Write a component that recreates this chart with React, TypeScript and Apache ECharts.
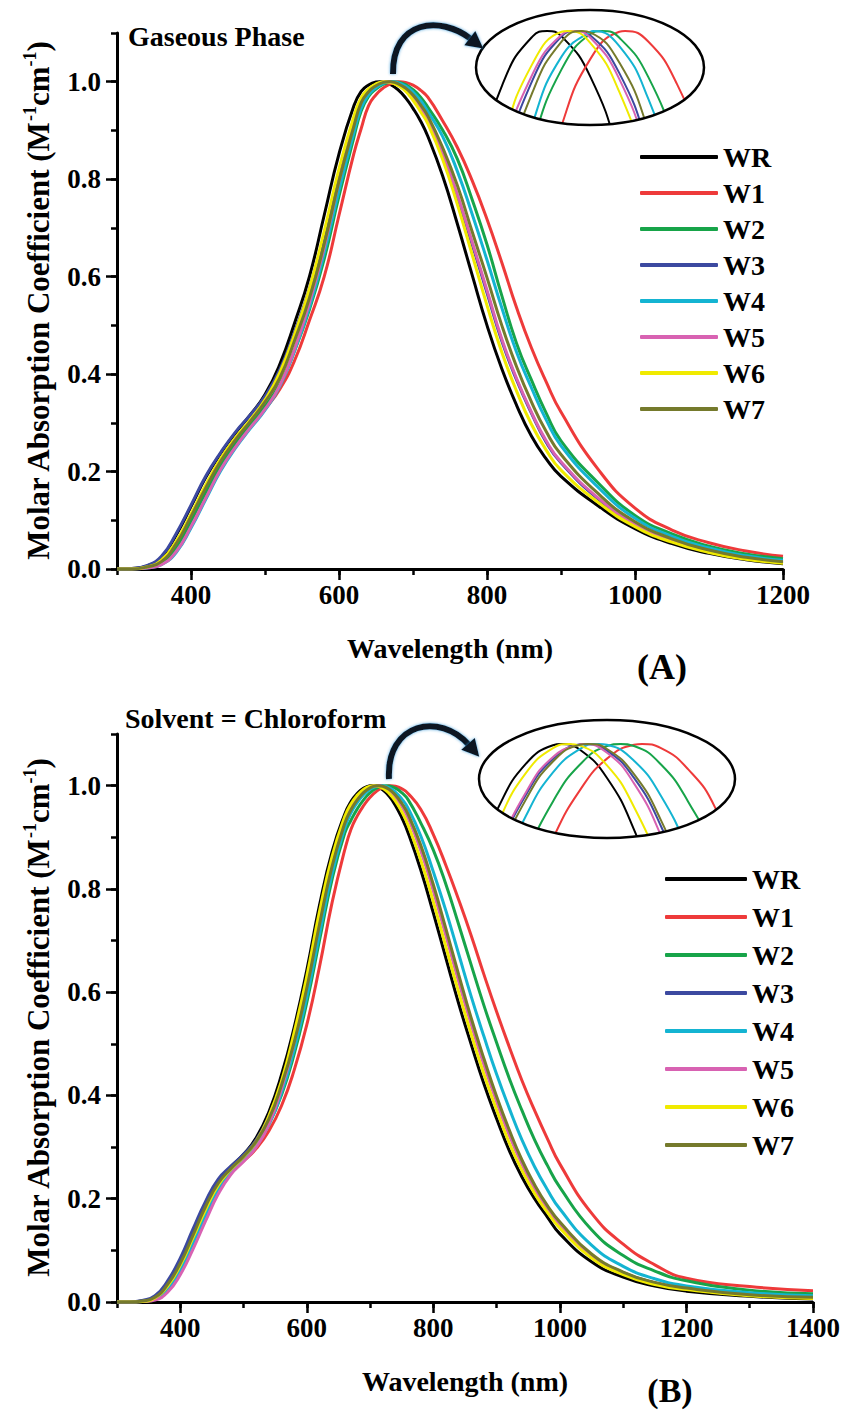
import React, { useEffect, useRef } from 'react';
import * as echarts from 'echarts';

// ---------- data ----------
const NAMES = ['WR', 'W1', 'W2', 'W3', 'W4', 'W5', 'W6', 'W7'];
const COLORS = ['#000000', '#ee3a3a', '#17a449', '#3c49a0', '#14b4d2', '#d862b2', '#f0ea00', '#757a2c'];

// Panel A (gaseous phase)
const wavelengthA = [300, 320, 340, 360, 380, 400, 420, 440, 460, 480, 500, 520, 540, 560, 580, 600,
  620, 630, 640, 650, 660, 670, 680, 690, 700, 710, 720,
  740, 760, 780, 800, 820, 840, 860, 880, 900,
  950, 1000, 1050, 1100, 1150, 1200];
const WR_A = [0.000, 0.001, 0.006, 0.024, 0.070, 0.128, 0.188, 0.237, 0.279, 0.316, 0.358, 0.420, 0.505, 0.600, 0.726, 0.852,
  0.950, 0.980, 0.9933, 0.9993, 0.9993, 0.9939, 0.9831, 0.9669, 0.9453, 0.920, 0.888,
  0.807, 0.708, 0.603, 0.500, 0.411, 0.336, 0.273, 0.226, 0.190,
  0.130, 0.083, 0.052, 0.032, 0.019, 0.011];
const W1_A = [0.000, 0.000, 0.003, 0.012, 0.045, 0.099, 0.158, 0.214, 0.257, 0.293, 0.328, 0.369, 0.428, 0.510, 0.600, 0.726,
  0.852, 0.904, 0.951, 0.9734, 0.9874, 0.9963, 0.9999, 0.9986, 0.9929, 0.9828, 0.9682,
  0.920, 0.865, 0.797, 0.718, 0.629, 0.536, 0.454, 0.384, 0.322,
  0.205, 0.125, 0.080, 0.054, 0.037, 0.026];
const W2_A = [0.000, 0.000, 0.003, 0.012, 0.045, 0.099, 0.158, 0.214, 0.259, 0.297, 0.334, 0.380, 0.448, 0.532, 0.636, 0.765,
  0.885, 0.940, 0.9699, 0.9850, 0.9949, 0.9996, 0.9991, 0.9939, 0.9838, 0.9689, 0.9480,
  0.901, 0.841, 0.758, 0.666, 0.561, 0.463, 0.388, 0.320, 0.263,
  0.177, 0.110, 0.072, 0.047, 0.031, 0.021];
const W3_A = [0.000, 0.001, 0.007, 0.026, 0.073, 0.131, 0.191, 0.239, 0.281, 0.316, 0.355, 0.409, 0.487, 0.575, 0.686, 0.815,
  0.922, 0.963, 0.9819, 0.9935, 0.9993, 0.9994, 0.9944, 0.9844, 0.9694, 0.948, 0.920,
  0.850, 0.763, 0.666, 0.567, 0.468, 0.388, 0.320, 0.260, 0.218,
  0.144, 0.091, 0.057, 0.035, 0.021, 0.013];
const W4_A = [0.000, 0.000, 0.002, 0.009, 0.034, 0.084, 0.143, 0.201, 0.248, 0.288, 0.326, 0.375, 0.448, 0.537, 0.648, 0.777,
  0.895, 0.946, 0.9731, 0.9877, 0.9966, 0.9999, 0.9980, 0.9910, 0.9790, 0.9620, 0.939,
  0.888, 0.816, 0.728, 0.634, 0.536, 0.445, 0.372, 0.306, 0.253,
  0.168, 0.104, 0.067, 0.043, 0.027, 0.018];
const W5_A = [0.000, 0.000, 0.002, 0.009, 0.036, 0.087, 0.146, 0.204, 0.250, 0.290, 0.328, 0.377, 0.452, 0.546, 0.660, 0.796,
  0.913, 0.960, 0.9833, 0.9943, 0.9995, 0.9991, 0.9936, 0.9831, 0.9676, 0.948, 0.923,
  0.854, 0.768, 0.671, 0.572, 0.472, 0.391, 0.322, 0.263, 0.220,
  0.146, 0.092, 0.058, 0.036, 0.022, 0.014];
const W6_A = [0.000, 0.000, 0.004, 0.018, 0.057, 0.113, 0.173, 0.226, 0.269, 0.306, 0.347, 0.403, 0.482, 0.575, 0.693, 0.821,
  0.928, 0.967, 0.9855, 0.9957, 0.9999, 0.9984, 0.9919, 0.9804, 0.962, 0.939, 0.914,
  0.841, 0.748, 0.645, 0.541, 0.445, 0.365, 0.297, 0.244, 0.203,
  0.137, 0.087, 0.055, 0.034, 0.020, 0.012];
const W7_A = [0.000, 0.000, 0.004, 0.015, 0.052, 0.108, 0.167, 0.221, 0.265, 0.303, 0.343, 0.392, 0.469, 0.556, 0.667, 0.796,
  0.908, 0.957, 0.9796, 0.9919, 0.9986, 0.9998, 0.9958, 0.9868, 0.9728, 0.953, 0.930,
  0.865, 0.787, 0.692, 0.598, 0.500, 0.415, 0.343, 0.282, 0.235,
  0.155, 0.097, 0.062, 0.039, 0.024, 0.015];
const peaksA = [655, 682, 674, 665, 671, 664, 662, 667];

// Panel B (chloroform)
const wavelengthB = [300, 320, 340, 360, 380, 400, 420, 440, 460, 480, 500, 520, 540, 560, 580, 600, 620, 640,
  660, 670, 680, 690, 700, 710, 720, 730, 740, 750, 760,
  780, 800, 820, 840, 860, 880, 900, 920, 940, 960, 980, 1000,
  1050, 1100, 1150, 1200, 1300, 1400];
const WR_B = [0, 0, 0.002, 0.010, 0.037, 0.080, 0.135, 0.190, 0.234, 0.262, 0.286, 0.318, 0.368, 0.440, 0.532, 0.643, 0.768, 0.872,
  0.945, 0.9695, 0.9852, 0.9953, 0.9997, 0.9986, 0.9919, 0.9796, 0.9617, 0.938, 0.909,
  0.837, 0.753, 0.665, 0.578, 0.498, 0.422, 0.355, 0.293, 0.242, 0.200, 0.165, 0.132,
  0.078, 0.048, 0.031, 0.021, 0.011, 0.006];
const W1_B = [0, 0, 0.001, 0.007, 0.027, 0.066, 0.118, 0.174, 0.220, 0.252, 0.273, 0.297, 0.331, 0.380, 0.449, 0.537, 0.649, 0.774,
  0.876, 0.916, 0.9419, 0.9617, 0.9775, 0.9890, 0.9965, 0.9998, 0.9990, 0.9940, 0.9849,
  0.9543, 0.905, 0.845, 0.779, 0.709, 0.634, 0.562, 0.494, 0.429, 0.371, 0.317, 0.267,
  0.172, 0.112, 0.072, 0.046, 0.030, 0.022];
const W2_B = [0, 0, 0.001, 0.007, 0.029, 0.068, 0.121, 0.176, 0.224, 0.256, 0.278, 0.305, 0.345, 0.401, 0.480, 0.580, 0.700, 0.819,
  0.908, 0.9335, 0.9555, 0.9730, 0.9863, 0.9951, 0.9995, 0.9995, 0.9951, 0.9863, 0.9730,
  0.928, 0.875, 0.808, 0.731, 0.652, 0.574, 0.502, 0.433, 0.371, 0.314, 0.265, 0.222,
  0.140, 0.090, 0.060, 0.041, 0.023, 0.016];
const W3_B = [0, 0, 0.003, 0.012, 0.041, 0.085, 0.141, 0.195, 0.238, 0.263, 0.286, 0.314, 0.360, 0.424, 0.508, 0.614, 0.737, 0.849,
  0.931, 0.9559, 0.9744, 0.9879, 0.9964, 0.9999, 0.9984, 0.9919, 0.9804, 0.9639, 0.941,
  0.878, 0.800, 0.713, 0.625, 0.541, 0.463, 0.391, 0.326, 0.270, 0.222, 0.184, 0.151,
  0.090, 0.057, 0.037, 0.026, 0.013, 0.008];
const W4_B = [0, 0, 0.001, 0.006, 0.024, 0.062, 0.113, 0.168, 0.218, 0.252, 0.276, 0.304, 0.343, 0.405, 0.489, 0.591, 0.712, 0.830,
  0.918, 0.948, 0.9678, 0.9829, 0.9932, 0.9988, 0.9998, 0.9960, 0.9876, 0.9744, 0.9565,
  0.903, 0.833, 0.757, 0.674, 0.591, 0.514, 0.441, 0.375, 0.314, 0.262, 0.218, 0.180,
  0.110, 0.069, 0.045, 0.031, 0.018, 0.012];
const W5_B = [0, 0, 0.001, 0.004, 0.019, 0.053, 0.102, 0.157, 0.209, 0.247, 0.272, 0.300, 0.345, 0.413, 0.503, 0.614, 0.737, 0.849,
  0.930, 0.957, 0.9750, 0.9885, 0.9969, 0.9999, 0.9979, 0.9906, 0.9781, 0.9605, 0.9376,
  0.875, 0.796, 0.709, 0.621, 0.537, 0.459, 0.388, 0.323, 0.267, 0.220, 0.182, 0.150,
  0.090, 0.056, 0.037, 0.026, 0.013, 0.008];
const W6_B = [0, 0, 0.001, 0.008, 0.031, 0.071, 0.124, 0.179, 0.226, 0.257, 0.281, 0.311, 0.360, 0.428, 0.522, 0.631, 0.756, 0.863,
  0.940, 0.9650, 0.9817, 0.9931, 0.9990, 0.9996, 0.9949, 0.9850, 0.9699, 0.9497, 0.9235,
  0.856, 0.775, 0.687, 0.600, 0.518, 0.441, 0.372, 0.308, 0.255, 0.210, 0.174, 0.143,
  0.085, 0.053, 0.034, 0.024, 0.012, 0.007];
const W7_B = [0, 0, 0.002, 0.009, 0.034, 0.075, 0.129, 0.185, 0.230, 0.258, 0.282, 0.311, 0.354, 0.420, 0.503, 0.608, 0.731, 0.844,
  0.927, 0.9538, 0.9728, 0.9868, 0.9958, 0.9998, 0.9988, 0.9928, 0.9818, 0.9658, 0.9448,
  0.885, 0.808, 0.722, 0.634, 0.549, 0.471, 0.398, 0.333, 0.275, 0.227, 0.187, 0.155,
  0.093, 0.058, 0.038, 0.027, 0.014, 0.009];
const peaksB = [703, 733, 725, 712, 717, 711, 706, 713];

// tick labels
const xMajorA = [400, 600, 800, 1000, 1200];
const xMajorB = [400, 600, 800, 1000, 1200, 1400];
const yMajor = [0, 0.2, 0.4, 0.6, 0.8, 1.0];

const valuesA = [WR_A, W1_A, W2_A, W3_A, W4_A, W5_A, W6_A, W7_A];
const valuesB = [WR_B, W1_B, W2_B, W3_B, W4_B, W5_B, W6_B, W7_B];

// ---------- helpers ----------
const FONT = '"Liberation Serif", "Times New Roman", Times, "DejaVu Serif", serif';
const txt = (size: number) => ({ fontFamily: FONT, fontWeight: 'bold' as const, fontSize: size, color: '#000' });

function buildData(grid: number[], vals: number[], peak: number) {
  const pts = grid.map((x, i) => [x, vals[i]]);
  pts.push([peak, 1]);
  pts.sort((a, b) => a[0] - b[0]);
  return pts;
}

const MASK_D = 'M-1.06 -1.06 L1.06 -1.06 L1.06 1.06 L-1.06 1.06 Z M-1 0 C-1 0.5523 -0.5523 1 0 1 C0.5523 1 1 0.5523 1 0 C1 -0.5523 0.5523 -1 0 -1 C-0.5523 -1 -1 -0.5523 -1 0 Z';
echarts.graphic.registerShape('ellipseMask', echarts.graphic.extendPath(MASK_D, {}));

const axisLineStyle = { color: '#000', width: 3 };
const tickStyle = { color: '#000', width: 2.5 };

function xAxesFor(gi: number, max: number, majors: number[]) {
  return [
    {
      gridIndex: gi, type: 'value', min: 300, max, interval: 100, position: 'bottom',
      axisLine: { show: true, onZero: false, lineStyle: axisLineStyle },
      axisTick: { show: true, length: 6, lineStyle: tickStyle },
      axisLabel: { show: false }, splitLine: { show: false },
    },
    {
      gridIndex: gi, type: 'value', min: 300, max, position: 'bottom',
      axisLine: { show: false, onZero: false },
      axisTick: { show: true, length: 11, lineStyle: tickStyle, customValues: majors },
      axisLabel: { show: true, customValues: majors, margin: 12, formatter: (v: number) => String(Math.round(v)), ...txt(27) },
      splitLine: { show: false },
      name: 'Wavelength (nm)', nameLocation: 'middle', nameGap: 65, nameTextStyle: txt(28),
    },
  ];
}

function yAxesFor(gi: number) {
  return [
    {
      gridIndex: gi, type: 'value', min: 0, max: 1.1, interval: 0.1, position: 'left',
      axisLine: { show: true, onZero: false, lineStyle: axisLineStyle },
      axisTick: { show: true, length: 6, lineStyle: tickStyle },
      axisLabel: { show: false }, splitLine: { show: false },
    },
    {
      gridIndex: gi, type: 'value', min: 0, max: 1.1, position: 'left',
      axisLine: { show: false, onZero: false },
      axisTick: { show: true, length: 11, lineStyle: tickStyle, customValues: yMajor },
      axisLabel: { show: true, customValues: yMajor, margin: 16, formatter: (v: number) => v.toFixed(1), ...txt(27) },
      splitLine: { show: false },
      name: '{a|Molar Absorption Coefficient (M}{s|-1}{a|cm}{s|-1}{a|)}',
      nameLocation: 'middle', nameGap: 61,
      nameTextStyle: {
        rich: {
          a: { ...txt(31), lineHeight: 35 },
          s: { ...txt(18), verticalAlign: 'top', lineHeight: 35 },
        },
      },
    },
  ];
}

function seriesFor(xi: number, yi: number, grid: number[], vals: number[][], peaks: number[], width: number) {
  return NAMES.map((n, i) => ({
    type: 'line', name: n, xAxisIndex: xi, yAxisIndex: yi,
    data: buildData(grid, vals[i], peaks[i]),
    smooth: true, showSymbol: false, symbol: 'none', silent: true,
    lineStyle: { color: COLORS[i], width },
    itemStyle: { color: COLORS[i] },
    emphasis: { disabled: true },
  }));
}

function legendFor(left: number, top: number, itemWidth: number, itemGap: number) {
  return {
    orient: 'vertical', left, top, itemWidth, itemHeight: 4, itemGap, icon: 'roundRect',
    selectedMode: false, padding: 0, data: NAMES,
    itemStyle: { borderWidth: 0 },
    textStyle: { ...txt(28), lineHeight: 28 },
  };
}

function arrow(x1: number, y1: number, c1x: number, c1y: number, c2x: number, c2y: number, x2: number, y2: number) {
  const dx = x2 - c2x, dy = y2 - c2y;
  const L = Math.sqrt(dx * dx + dy * dy);
  const ux = dx / L, uy = dy / L;
  const px = -uy, py = ux;
  const bx = x2 - 1.5 * ux, by = y2 - 1.5 * uy;
  const tip = [bx + 17 * ux, by + 17 * uy];
  const glow = { shadowColor: 'rgba(40,140,210,0.8)', shadowBlur: 3 };
  return [
    {
      type: 'bezierCurve', z: 60, silent: true,
      shape: { x1, y1, cpx1: c1x, cpy1: c1y, cpx2: c2x, cpy2: c2y, x2, y2 },
      style: { stroke: '#0b1822', lineWidth: 6, fill: null, ...glow },
    },
    {
      type: 'polygon', z: 60, silent: true,
      shape: { points: [tip, [bx + 9 * px, by + 9 * py], [bx - 9 * px, by - 9 * py]] },
      style: { fill: '#0b1822', ...glow },
    },
  ];
}

function label(text: string, x: number, y: number, size: number, align = 'left') {
  return {
    type: 'text', z: 60, silent: true, x, y,
    style: {
      text, fill: '#000', font: `bold ${size}px ${FONT}`,
      textAlign: align, textVerticalAlign: 'middle', align, verticalAlign: 'middle',
    },
  };
}

const option: any = {
  animation: false,
  backgroundColor: '#ffffff',
  grid: [
    { left: 117, top: 33, width: 666, height: 536 },
    { left: 117, top: 734, width: 696, height: 568 },
    { left: 476, top: 10, width: 228, height: 115 },
    { left: 479, top: 720, width: 256, height: 118 },
  ],
  xAxis: [
    ...xAxesFor(0, 1200, xMajorA),
    ...xAxesFor(1, 1400, xMajorB),
    { gridIndex: 2, type: 'value', min: 630.4, max: 709.3, show: false },
    { gridIndex: 3, type: 'value', min: 672.6, max: 767.4, show: false },
  ],
  yAxis: [
    ...yAxesFor(0),
    ...yAxesFor(1),
    { gridIndex: 2, type: 'value', min: 0.9875, max: 1.0028, show: false },
    { gridIndex: 3, type: 'value', min: 0.9776, max: 1.0057, show: false },
  ],
  legend: [legendFor(640, 143, 78, 8), legendFor(665, 865, 82, 10)],
  series: [
    ...seriesFor(0, 0, wavelengthA, valuesA, peaksA, 3),
    ...seriesFor(2, 2, wavelengthB, valuesB, peaksB, 3),
    ...seriesFor(4, 4, wavelengthA, valuesA, peaksA, 2),
    ...seriesFor(5, 5, wavelengthB, valuesB, peaksB, 2),
  ],
  graphic: {
    elements: [
      { type: 'ellipseMask', z: 50, silent: true, x: 590, y: 67.5, scaleX: 114, scaleY: 57.5, style: { fill: '#ffffff' } },
      { type: 'ellipseMask', z: 50, silent: true, x: 607, y: 779, scaleX: 128, scaleY: 59, style: { fill: '#ffffff' } },
      { type: 'ellipse', z: 55, silent: true, shape: { cx: 590, cy: 67.5, rx: 114, ry: 57.5 }, style: { fill: null, stroke: '#000', lineWidth: 2.5 } },
      { type: 'ellipse', z: 55, silent: true, shape: { cx: 607, cy: 779, rx: 128, ry: 59 }, style: { fill: null, stroke: '#000', lineWidth: 2.5 } },
      ...arrow(393, 74, 392, 20, 440, 15, 471, 39),
      ...arrow(389, 779, 386, 722, 440, 712, 469, 745),
      label('Gaseous Phase', 128, 36, 28),
      label('Solvent = Chloroform', 125, 718, 28),
      label('(A)', 662, 667, 36, 'center'),
      label('(B)', 670, 1390, 34, 'center'),
    ],
  },
};

export default function App() {
  const ref = useRef<HTMLDivElement>(null);
  useEffect(() => {
    if (!ref.current) return;
    const chart = echarts.init(ref.current, null, { renderer: 'svg' });
    chart.setOption(option);
    return () => chart.dispose();
  }, []);
  return (
    <div
      ref={ref}
      style={{ position: 'absolute', left: 0, top: 0, width: 845, height: 1411, background: '#fff' }}
    />
  );
}
